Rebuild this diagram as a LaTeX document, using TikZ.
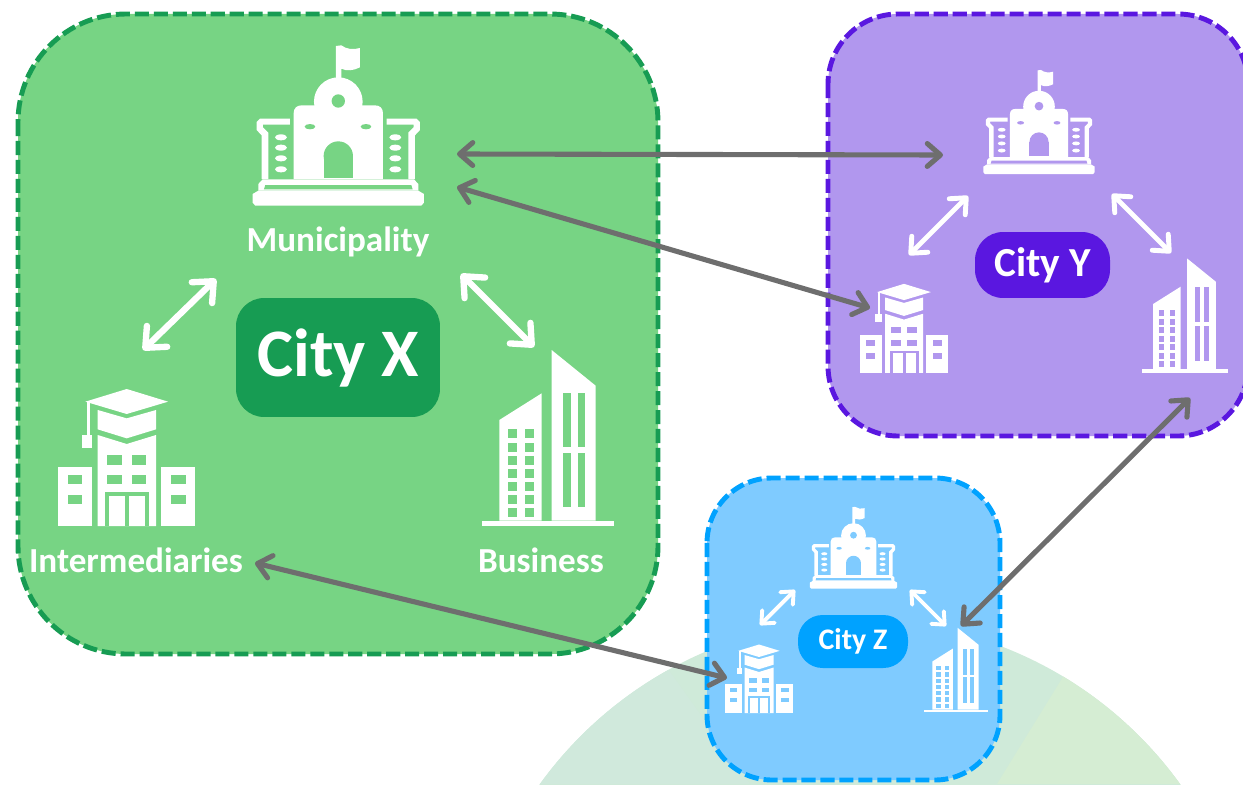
\documentclass[tikz,border=0pt]{standalone}
\usepackage{fontspec}
\setmainfont{Carlito}
\usetikzlibrary{arrows.meta}
\definecolor{fillX}{HTML}{77D484}
\definecolor{edgeX}{HTML}{179C53}
\definecolor{fillY}{HTML}{B197EE}
\definecolor{edgeY}{HTML}{5A17E0}
\definecolor{fillZ}{HTML}{7FCBFF}
\definecolor{edgeZ}{HTML}{00A2FF}
\definecolor{linkgray}{HTML}{6E6E6E}
\definecolor{hillmid}{HTML}{CFEAD9}
\definecolor{hillleft}{HTML}{D0E9DC}
\definecolor{hillright}{HTML}{D5EDD3}
\tikzset{
    holes/.code={\colorlet{holecol}{#1}},
    hole/.style={fill=holecol},
    panel/.style={line width=2.8pt,dash pattern=on 8pt off 2.8pt},
    citytag/.style={text=white,font=\bfseries,inner sep=0pt,rounded corners=16pt},
    iconlabel/.style={text=white,font=\bfseries\fontsize{20}{22}\selectfont,inner sep=0pt},
    link/.style={linkgray,line width=2.9pt,{Straight Barb[length=7.5pt,width=13pt,round]}-{Straight Barb[length=7.5pt,width=13pt,round]}},
    whitelink/.style={white,line width=#1,{Straight Barb[length=2.6*#1,width=4.6*#1,round]}-{Straight Barb[length=2.6*#1,width=4.6*#1,round]}},
    townhall/.pic={
        \begin{scope}[scale=1/3,shift={(-325,-300)}]
            \fill[white] (318,48)--(318,150)--(334,150)--(334,116) .. controls (350,124) and (370,122) .. (390,112)--(390,54) .. controls (370,60) and (350,58) .. (334,46)--cycle;
            \fill[white] (325,215) circle[radius=73];
            \fill[white] (191,447)--(191,250) .. controls (191,235) and (200,226) .. (215,226)--(435,226) .. controls (450,226) and (459,235) .. (459,250)--(459,447)--cycle;
            \fill[white] (85,482)--(85,462)--(98,448)--(552,448)--(565,462)--(565,482)--cycle;
            \fill[white] (68,492)--(85,482)--(565,482)--(582,492)--(582,518)--(574,527)--(76,527)--(68,518)--cycle;
            \fill[hole] (102,478)--(106,465)--(544,465)--(548,478)--cycle;
            \fill[white] (80,276)--(90,266)--(180,266)--(180,284)--(99,284)--(99,292)--(115,308)--(115,447)--(95,447)--(95,316)--(80,300)--cycle;
            \fill[white] (570,276)--(560,266)--(470,266)--(470,284)--(551,284)--(551,292)--(535,308)--(535,447)--(555,447)--(555,316)--(570,300)--cycle;
            \fill[hole] (325,213) circle[radius=20];
            \fill[hole] (240,290) ellipse[x radius=16,y radius=8];
            \fill[hole] (408,290) ellipse[x radius=16,y radius=8];
            \fill[hole] (325,378) circle[radius=44];
            \fill[hole] (281,378) rectangle (369,445);
            \fill[white] (153,322) ellipse[x radius=18,y radius=9];
            \fill[white] (153,353) ellipse[x radius=18,y radius=9];
            \fill[white] (153,385) ellipse[x radius=18,y radius=9];
            \fill[white] (153,418) ellipse[x radius=18,y radius=9];
            \fill[white] (496,322) ellipse[x radius=18,y radius=9];
            \fill[white] (496,353) ellipse[x radius=18,y radius=9];
            \fill[white] (496,385) ellipse[x radius=18,y radius=9];
            \fill[white] (496,418) ellipse[x radius=18,y radius=9];
        \end{scope}
    },
    school/.pic={
        \begin{scope}[scale=1/3,shift={(-290,-270)}]
            \fill[white] (166,95)--(290,57)--(414,95)--(290,132)--cycle;
            \fill[white] (203,120)--(290,145)--(378,120)--(378,178)--(290,205)--(203,178)--cycle;
            \fill[white] (170,95) rectangle (180,195);
            \fill[white] (157,195) rectangle (187,233);
            \fill[white] (203,195)--(290,222)--(378,195)--(378,468)--(203,468)--cycle;
            \fill[white] (85,292) rectangle (187,468);
            \fill[white] (392,292) rectangle (495,468);
            \fill[hole] (225,365) rectangle (358,468);
            \fill[white] (238,378) rectangle (345,468);
            \fill[hole] (285,378) rectangle (297,468);
            \fill[hole] (232,256) rectangle (275,285);
            \fill[hole] (305,256) rectangle (348,285);
            \fill[hole] (232,315) rectangle (275,343);
            \fill[hole] (305,315) rectangle (348,343);
            \fill[hole] (113,315) rectangle (157,343);
            \fill[hole] (113,375) rectangle (157,403);
            \fill[hole] (422,315) rectangle (467,343);
            \fill[hole] (422,375) rectangle (467,403);
        \end{scope}
    },
    tower/.pic={
        \begin{scope}[scale=1/3,shift={(-265,-300)}]
            \fill[white] (65,542) rectangle (462,558);
            \fill[white] (118,240)--(245,160)--(245,542)--(118,542)--cycle;
            \fill[white] (275,30)--(407,137)--(407,542)--(275,542)--cycle;
            \fill[hole] (143,268) rectangle (170,295);
            \fill[hole] (194,268) rectangle (221,295);
            \fill[hole] (143,308) rectangle (170,335);
            \fill[hole] (194,308) rectangle (221,335);
            \fill[hole] (143,347) rectangle (170,374);
            \fill[hole] (194,347) rectangle (221,374);
            \fill[hole] (143,387) rectangle (170,414);
            \fill[hole] (194,387) rectangle (221,414);
            \fill[hole] (143,426) rectangle (170,453);
            \fill[hole] (194,426) rectangle (221,453);
            \fill[hole] (143,465) rectangle (170,492);
            \fill[hole] (194,465) rectangle (221,492);
            \fill[hole] (143,504) rectangle (170,531);
            \fill[hole] (194,504) rectangle (221,531);
            \fill[hole] (310,160) rectangle (332,322);
            \fill[hole] (354,160) rectangle (376,322);
            \fill[hole] (310,340) rectangle (332,502);
            \fill[hole] (354,340) rectangle (376,502);
        \end{scope}
    }
}
\begin{document}
\begin{tikzpicture}[x=0.02cm,y=-0.02cm]
    \clip (0,0) rectangle (1243,784);
    % hill behind city Z
    \coordinate (H) at (860,1015);
    \fill[hillmid] (H) circle[radius=394.7];
    \begin{scope}
        \clip (H) circle[radius=394.7];
        \fill[hillleft] (633,620)--(750,784)--(500,784)--(500,620)--cycle;
        \fill[hillright] (1100,617)--(997,784)--(1243,784)--(1243,617)--cycle;
    \end{scope}
    % city panels
    \draw[panel,draw=edgeX,fill=fillX,rounded corners=2.16cm] (18,14) rectangle (658,654);
    \draw[panel,draw=edgeY,fill=fillY,rounded corners=1.4cm] (828,14) rectangle (1248,436);
    \draw[panel,draw=edgeZ,fill=fillZ,rounded corners=1.3cm] (707,478) rectangle (1000,780);
    % city X
    \pic[holes=fillX] at (338.3,130) {townhall};
    \pic[holes=fillX] at (126.7,460) {school};
    \pic[holes=fillX] at (548.3,440) {tower};
    \node[iconlabel] (labMun) at (338,242) {Municipality};
    \node[iconlabel] (labInt) at (136,560) {Intermediaries};
    \node[iconlabel] (labBus) at (541,560) {Business};
    \node[citytag,fill=edgeX,minimum width=4.08cm,minimum height=2.38cm,font=\bfseries\fontsize{38.7}{42}\selectfont] (tagX) at (338,357.5) {City X};
    % city Y
    \pic[holes=fillY,scale=.65] at (1039,125) {townhall};
    \pic[holes=fillY,scale=.65] at (904,330) {school};
    \pic[holes=fillY,scale=.65] at (1185,317) {tower};
    \node[citytag,fill=edgeY,minimum width=2.7cm,minimum height=1.32cm,font=\bfseries\fontsize{23.5}{26}\selectfont] (tagY) at (1042.5,265) {City Y};
    % city Z
    \pic[holes=fillZ,scale=.51] at (853.5,550) {townhall};
    \pic[holes=fillZ,scale=.5] at (759,680) {school};
    \pic[holes=fillZ,scale=.48] at (956,671) {tower};
    \node[citytag,fill=edgeZ,minimum width=2.2cm,minimum height=1.06cm,rounded corners=14pt,font=\bfseries\fontsize{17}{20}\selectfont] (tagZ) at (853,641.5) {City Z};
    % arrow ends
    \coordinate (XmunA) at (216,279);
    \coordinate (XintA) at (143,350);
    \coordinate (XmunB) at (461,274);
    \coordinate (XbusA) at (534,347);
    \coordinate (YmunA) at (968,196);
    \coordinate (YintA) at (909,255);
    \coordinate (YmunB) at (1112,194);
    \coordinate (YbusA) at (1171,253);
    \coordinate (ZmunA) at (795,590);
    \coordinate (ZintA) at (760,625);
    \coordinate (ZmunB) at (910,590);
    \coordinate (ZbusA) at (946,626);
    \coordinate (XmunC) at (457,154);
    \coordinate (YmunC) at (943,155);
    \coordinate (XmunD) at (457,187);
    \coordinate (YintD) at (870,308);
    \coordinate (XintE) at (255,563);
    \coordinate (ZintE) at (727,678);
    \coordinate (YbusF) at (1190,398);
    \coordinate (ZbusF) at (961,626);
    % links inside the cities
    \draw[whitelink=3.6pt] (XmunA)--(XintA);
    \draw[whitelink=3.6pt] (XmunB)--(XbusA);
    \draw[whitelink=2.8pt] (YmunA)--(YintA);
    \draw[whitelink=2.8pt] (YmunB)--(YbusA);
    \draw[whitelink=2.2pt] (ZmunA)--(ZintA);
    \draw[whitelink=2.2pt] (ZmunB)--(ZbusA);
    % links between the cities
    \draw[link] (XmunC)--(YmunC);
    \draw[link] (XmunD)--(YintD);
    \draw[link] (XintE)--(ZintE);
    \draw[link] (YbusF)--(ZbusF);
\end{tikzpicture}
\end{document}
